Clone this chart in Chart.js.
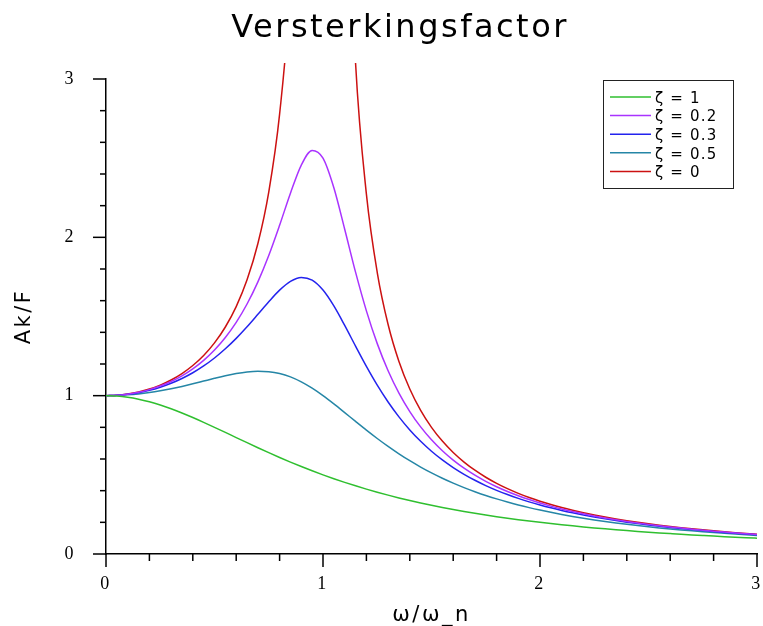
<!DOCTYPE html>
<html><head><meta charset="utf-8">
<script src="https://cdn.jsdelivr.net/npm/chart.js@4"></script>
<style>html,body{margin:0;padding:0;background:#fff}canvas{display:block}</style>
</head><body>
<canvas id="c" width="763" height="626"></canvas>
<script>
const chartTitle = 'Versterkingsfactor';
const xTitle = 'ω/ω_n';
const yTitle = 'Ak/F';
const seriesLabels = ['ζ = 1', 'ζ = 0.2', 'ζ = 0.3', 'ζ = 0.5', 'ζ = 0'];
const seriesColors = ['#2fbf2f', '#a933ff', '#2323ee', '#2586a6', '#cc1111'];

const ratio = [0,0.05,0.1,0.15,0.2,0.25,0.3,0.35,0.4,0.45,0.5,0.55,0.6,0.65,0.7,0.75,0.8,0.85,0.9,0.95,1,
  1.05,1.1,1.15,1.2,1.25,1.3,1.35,1.4,1.45,1.5,1.55,1.6,1.65,1.7,1.75,1.8,1.85,1.9,1.95,2,
  2.05,2.1,2.15,2.2,2.25,2.3,2.35,2.4,2.45,2.5,2.55,2.6,2.65,2.7,2.75,2.8,2.85,2.9,2.95,3];

const zeta1 = [1,0.9975,0.9901,0.9780,0.9615,0.9412,0.9174,0.8909,0.8621,0.8316,0.8,0.7678,0.7353,0.7030,0.6711,0.64,0.6098,0.5806,0.5525,0.5256,0.5,
  0.4756,0.4525,0.4306,0.4098,0.3902,0.3717,0.3543,0.3378,0.3223,0.3077,0.2939,0.2809,0.2686,0.2571,0.2462,0.2358,0.2261,0.2169,0.2082,0.2,
  0.1922,0.1848,0.1778,0.1712,0.1649,0.1590,0.1533,0.1479,0.1428,0.1379,0.1333,0.1289,0.1246,0.1206,0.1168,0.1131,0.1096,0.1063,0.1031,0.1];

const zeta02 = [1,1.0023,1.0093,1.0211,1.0381,1.0606,1.0895,1.1254,1.1695,1.2231,1.2883,1.3673,1.4630,1.5790,1.7188,1.8851,2.0762,2.2786,2.4566,2.5490,2.5,
  2.3130,2.0511,1.7800,1.5357,1.3287,1.1574,1.0163,0.8998,0.8027,0.7212,0.6521,0.5931,0.5421,0.4979,0.4591,0.4250,0.3948,0.3679,0.3438,0.3221,
  0.3025,0.2847,0.2686,0.2538,0.2403,0.2279,0.2165,0.2059,0.1962,0.1871,0.1787,0.1708,0.1635,0.1567,0.1503,0.1443,0.1386,0.1333,0.1283,0.1236];

const zeta03 = [1,1.0021,1.0082,1.0187,1.0336,1.0533,1.0780,1.1083,1.1447,1.1877,1.2380,1.2960,1.3618,1.4350,1.5136,1.5933,1.6667,1.7223,1.7469,1.7293,1.6667,
  1.5667,1.4438,1.3129,1.1851,1.0667,0.9603,0.8663,0.7839,0.7120,0.6492,0.5942,0.5459,0.5033,0.4656,0.4321,0.4021,0.3753,0.3511,0.3293,0.3095,
  0.2915,0.2751,0.2601,0.2463,0.2336,0.2219,0.2111,0.2011,0.1918,0.1831,0.1751,0.1676,0.1605,0.1540,0.1478,0.1420,0.1365,0.1314,0.1265,0.1220];

const zeta05 = [1,1.0013,1.0050,1.0112,1.0198,1.0307,1.0436,1.0585,1.0748,1.0921,1.1094,1.1258,1.1399,1.1501,1.1546,1.1517,1.1399,1.1184,1.0871,1.0471,1.0,
  0.9479,0.8930,0.8373,0.7824,0.7295,0.6795,0.6326,0.5891,0.5490,0.5121,0.4784,0.4475,0.4192,0.3934,0.3697,0.3480,0.3281,0.3098,0.2929,0.2774,
  0.2630,0.2497,0.2374,0.2260,0.2153,0.2054,0.1962,0.1876,0.1795,0.1720,0.1649,0.1582,0.1520,0.1461,0.1405,0.1353,0.1304,0.1257,0.1212,0.1170];

const zeta0 = [1,1.0025,1.0101,1.0230,1.0417,1.0667,1.0989,1.1396,1.1905,1.2539,1.3333,1.4337,1.5625,1.7316,1.9608,2.2857,2.7778,3.6036,5.2632,10.256,null,
  9.7561,4.7619,3.1008,2.2727,1.7778,1.4493,1.2158,1.0417,0.9070,0.8,0.7130,0.6410,0.5806,0.5291,0.4848,0.4464,0.4128,0.3831,0.3568,0.3333,
  0.3123,0.2933,0.2761,0.2604,0.2462,0.2331,0.2211,0.2101,0.1999,0.1905,0.1817,0.1736,0.1660,0.1590,0.1524,0.1462,0.1404,0.1350,0.1298,0.125];

const yTicks = [0, 1, 2, 3];
const xTicks = [0, 1, 2, 3];
const minorStep = 0.2;

const seriesValues = [zeta1, zeta02, zeta03, zeta05, zeta0];

const decor = {
  id: 'decor',
  beforeDraw(chart) { chart.ctx.letterSpacing = '2.5px'; },
  afterDraw(chart) {
    const ctx = chart.ctx, xs = chart.scales.x, ys = chart.scales.y;
    ctx.save();
    ctx.letterSpacing = '0px';
    ctx.strokeStyle = '#000';
    ctx.lineWidth = 1.5;
    const n = Math.round(3 / minorStep);
    for (let i = 0; i <= n; i++) {
      const v = i * minorStep;
      const major = i % 5 === 0;
      const py = ys.getPixelForValue(v);
      ctx.beginPath(); ctx.moveTo(xs.left - (major ? 13 : 6), py); ctx.lineTo(xs.left, py); ctx.stroke();
      const px = xs.getPixelForValue(v);
      ctx.beginPath(); ctx.moveTo(px, ys.bottom); ctx.lineTo(px, ys.bottom + (major ? 13 : 7)); ctx.stroke();
    }
    // title
    ctx.letterSpacing = '2.5px';
    ctx.fillStyle = '#000';
    ctx.font = '32px "DejaVu Sans"';
    ctx.textAlign = 'center';
    ctx.textBaseline = 'alphabetic';
    ctx.fillText(chartTitle, 400, 37);
    // legend
    ctx.letterSpacing = '1.2px';
    ctx.fillStyle = '#fff';
    ctx.fillRect(603.5, 80.5, 130, 108);
    ctx.lineWidth = 1;
    ctx.strokeStyle = '#222';
    ctx.strokeRect(603.5, 80.5, 130, 108);
    ctx.font = '15px "DejaVu Sans"';
    ctx.textAlign = 'left';
    ctx.textBaseline = 'middle';
    chart.data.datasets.forEach((ds, i) => {
      const y = 97 + i * 18.6;
      ctx.strokeStyle = ds.borderColor;
      ctx.lineWidth = 1.5;
      ctx.beginPath(); ctx.moveTo(610, y); ctx.lineTo(651, y); ctx.stroke();
      ctx.fillStyle = '#000';
      ctx.fillText(ds.label, 655, y + 2);
    });
    ctx.restore();
  }
};

new Chart(document.getElementById('c'), {
  type: 'line',
  data: {
    datasets: seriesValues.map((vals, i) => ({
      label: seriesLabels[i],
      data: ratio.map((r, j) => ({ x: r, y: vals[j] })),
      borderColor: seriesColors[i],
      backgroundColor: seriesColors[i],
      borderWidth: 1.5,
      pointRadius: 0,
      fill: false,
      spanGaps: false,
      cubicInterpolationMode: 'monotone',
      clip: { left: 0, top: 16, right: 0, bottom: 0 }
    }))
  },
  options: {
    responsive: false,
    animation: false,
    devicePixelRatio: 1,
    layout: { padding: { top: 79, right: 6, left: 0, bottom: 0 } },
    plugins: { legend: { display: false }, tooltip: { enabled: false }, title: { display: false } },
    scales: {
      x: {
        type: 'linear', min: 0, max: 3,
        afterFit(s) { s.height = 72; s.paddingLeft = 0; s.paddingRight = 0; },
        afterBuildTicks(s) { s.ticks = xTicks.map(v => ({ value: v })); },
        grid: { display: false, drawTicks: false },
        border: { display: true, color: '#000', width: 1.5 },
        ticks: { padding: 19, color: '#000', maxRotation: 0, autoSkip: false,
          font: { family: '"Liberation Serif"', size: 18 } },
        title: { display: true, text: xTitle, color: '#000',
          font: { family: '"DejaVu Sans"', size: 21, lineHeight: 1 }, padding: { top: 0, bottom: 0 } }
      },
      y: {
        type: 'linear', min: 0, max: 3,
        afterFit(s) { s.width = 106; s.paddingTop = 0; s.paddingBottom = 0; },
        afterBuildTicks(s) { s.ticks = yTicks.map(v => ({ value: v })); },
        grid: { display: false, drawTicks: false },
        border: { display: true, color: '#000', width: 1.5 },
        ticks: { padding: 30, color: '#000',
          font: { family: '"Liberation Serif"', size: 18 } },
        title: { display: true, text: yTitle, color: '#000',
          font: { family: '"DejaVu Sans"', size: 21, lineHeight: 1 }, padding: { top: 14.5, bottom: 0 } }
      }
    }
  },
  plugins: [decor]
});
</script>
</body></html>
